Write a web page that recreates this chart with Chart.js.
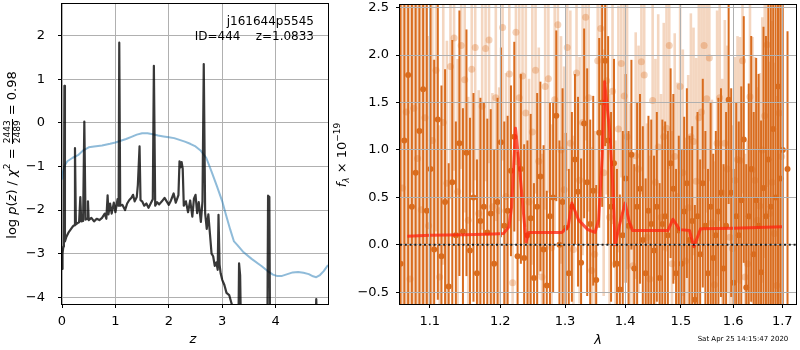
<!DOCTYPE html>
<html>
<head>
<meta charset="utf-8">
<script src="https://cdn.jsdelivr.net/npm/chart.js@4.4.1/dist/chart.umd.min.js"></script>
<style>
  body { margin: 0; background: #fff; }
  #wrap { position: relative; width: 800px; height: 350px; font-family: 'DejaVu Sans', sans-serif; color: #000; }
  canvas { position: absolute; top: 0; }
  #pzChart { left: 0; }
  #specChart { left: 332px; }
  .txt { position: absolute; white-space: pre; line-height: 15px; }
  .vt { width: 240px; height: 18px; line-height: 18px; text-align: center; transform-origin: 0 0; transform: rotate(-90deg); }
  .frac { display: inline-block; vertical-align: middle; text-align: center; font-size: 9px; line-height: 9px; }
  .frac span { display: block; padding: 0 1px; }
  .frac .num { border-bottom: 1px solid #000; }
  sup, sub { font-size: 9px; line-height: 0; position: relative; vertical-align: 0; }
  sup { top: -6px; }
  sub { top: 3px; }
</style>
</head>
<body>
<div id="wrap">
  <canvas id="pzChart" width="332" height="350"></canvas>
  <canvas id="specChart" width="468" height="350"></canvas>

  <div class="txt" style="left:0; width:314px; text-align:right; top:14px; font-size:12px;">j161644p5545</div>
  <div class="txt" style="left:0; width:314px; text-align:right; top:29px; font-size:12px;">ID=444    z=1.0833</div>

  <div class="txt vt" style="left:3px; top:275px; font-size:13px;">log <i>p</i>(<i>z</i>) / <i>χ</i><sup>2</sup> = <span class="frac"><span class="num">2443</span><span>2489</span></span> = 0.98</div>
  <div class="txt" style="left:188px; width:10px; text-align:center; top:331px; font-size:13px;"><i>z</i></div>

  <div class="txt vt" style="left:333px; top:275px; font-size:13px;"><i>f</i><sub><i>λ</i></sub> × 10<sup>−19</sup></div>
  <div class="txt" style="left:593px; width:10px; text-align:center; top:332px; font-size:13px;"><i>λ</i></div>

  <div class="txt" style="left:693px; width:100px; text-align:center; top:335px; font-size:7px; line-height:8px;">Sat Apr 25 14:15:47 2020</div>
</div>

<script>
// redshift probability, log p(z)
const PZ_Z = [
  0.00, 0.01, 0.025, 0.035, 0.045, 0.055, 0.08, 0.12, 0.16, 0.20,
  0.225, 0.243, 0.26, 0.29, 0.32, 0.343, 0.36, 0.395, 0.418, 0.44,
  0.47, 0.486, 0.50, 0.55, 0.60, 0.65, 0.70, 0.75, 0.80, 0.83,
  0.854, 0.87, 0.90, 0.93, 0.97, 1.00, 1.04, 1.06, 1.072, 1.09,
  1.13, 1.18, 1.22, 1.26, 1.30, 1.33, 1.36, 1.40, 1.42, 1.452,
  1.47, 1.50, 1.54, 1.58, 1.62, 1.66, 1.70, 1.72, 1.745, 1.78,
  1.82, 1.87, 1.92, 1.96, 2.00, 2.04, 2.09, 2.13, 2.18, 2.20, 2.22,
  2.24, 2.26, 2.28, 2.32, 2.36, 2.40, 2.44, 2.47, 2.50, 2.53,
  2.56, 2.60, 2.63, 2.654, 2.68, 2.71, 2.74, 2.77, 2.80, 2.83,
  2.86, 2.89, 2.915, 2.93, 2.95, 2.97, 3.00, 3.04, 3.08, 3.13,
  3.16, 3.20, 3.26, 3.30, 3.315, 3.335, 3.36, 3.50, 3.70, 3.84,
  3.858, 3.882, 3.90, 4.20, 4.60, 4.72, 4.76, 4.80, 4.98
];
const PZ_LOGP = [
  -3.35, -3.00, -2.84, -2.75, 0.85, -2.72, -2.62, -2.52, -2.45, -2.38,
  -2.35, -0.58, -2.33, -2.30, -2.28, -1.70, -2.26, -2.25, 0.03, -2.22,
  -2.20, -1.80, -2.23, -2.18, -2.26, -2.20, -2.23, -2.18, -2.08, -2.20,
  -1.66, -2.10, -1.85, -2.08, -1.83, -2.05, -1.75, -1.90, 1.84, -1.90,
  -1.88, -2.00, -1.85, -1.77, -1.72, -1.65, -1.80, -1.70, -1.43, -0.54,
  -1.77, -1.80, -1.90, -1.85, -1.95, -1.85, -1.75, 1.31, -1.90, -1.82,
  -1.87, -1.80, -1.72, -1.80, -1.88, -1.78, -1.62, -1.83, -1.66, -0.88, -1.02,
  -0.90, -1.05, -1.90, -1.80, -2.05, -1.78, -2.15, -1.74, -1.65, -2.07,
  -1.82, -2.27, -1.80, 1.35, -2.07, -2.43, -2.10, -2.55, -3.00, -3.06,
  -3.28, -3.20, -3.37, -2.11, -3.25, -3.45, -3.60, -3.72, -3.90, -3.95,
  -4.08, -4.25, -5.50, -5.00, -3.22, -3.50, -5.50, -8.0, -8.0, -6.0,
  -1.67, -1.70, -6.0, -9.0, -9.0, -6.0, -4.04, -6.0, -9.0
];
// prior
const PRIOR_Z = [
  0, 0.02, 0.05, 0.1, 0.2, 0.3, 0.4, 0.5, 0.6, 0.75,
  0.9, 1.0, 1.1, 1.2, 1.3, 1.4, 1.5, 1.6, 1.7, 1.8,
  1.9, 2.0, 2.1, 2.2, 2.3, 2.4, 2.5, 2.6, 2.7, 2.8,
  2.9, 3.0, 3.06, 3.15, 3.22, 3.28, 3.4, 3.55, 3.74, 3.85,
  3.95, 4.02, 4.12, 4.22, 4.32, 4.42, 4.52, 4.62, 4.7, 4.76,
  4.83, 4.9, 4.98
];
const PRIOR_LOGP = [
  -1.30, -1.12, -0.98, -0.88, -0.80, -0.74, -0.63, -0.56, -0.54, -0.52,
  -0.48, -0.45, -0.41, -0.37, -0.32, -0.27, -0.24, -0.24, -0.26, -0.29,
  -0.31, -0.33, -0.35, -0.39, -0.43, -0.48, -0.54, -0.64, -0.80, -1.12,
  -1.45, -1.80, -2.07, -2.45, -2.72, -2.80, -2.97, -3.12, -3.29, -3.40,
  -3.48, -3.51, -3.51, -3.47, -3.43, -3.42, -3.44, -3.47, -3.52, -3.54,
  -3.49, -3.40, -3.26
];
const Z_TICKS = [0, 1, 2, 3, 4];
const LOGP_TICKS = [-4, -3, -2, -1, 0, 1, 2];

// 1D spectrum, binned
const SPEC_WAVE = [
  1.061, 1.066, 1.071, 1.076, 1.081, 1.086, 1.091, 1.096, 1.101, 1.106,
  1.111, 1.116, 1.121, 1.126, 1.131, 1.136, 1.141, 1.146, 1.151, 1.156,
  1.161, 1.166, 1.171, 1.176, 1.181, 1.186, 1.191, 1.196, 1.201, 1.206,
  1.211, 1.216, 1.221, 1.226, 1.231, 1.236, 1.241, 1.246, 1.251, 1.256,
  1.261, 1.266, 1.271, 1.276, 1.281, 1.286, 1.291, 1.296, 1.301, 1.306,
  1.311, 1.316, 1.321, 1.326, 1.331, 1.336, 1.341, 1.346, 1.351, 1.356,
  1.361, 1.366, 1.371, 1.376, 1.381, 1.386, 1.391, 1.396, 1.401, 1.406,
  1.411, 1.416, 1.421, 1.426, 1.431, 1.436, 1.441, 1.446, 1.451, 1.456,
  1.461, 1.466, 1.471, 1.476, 1.481, 1.486, 1.491, 1.496, 1.501, 1.506,
  1.511, 1.516, 1.521, 1.526, 1.531, 1.536, 1.541, 1.546, 1.551, 1.556,
  1.561, 1.566, 1.571, 1.576, 1.581, 1.586, 1.591, 1.596, 1.601, 1.606,
  1.611, 1.616, 1.621, 1.626, 1.631, 1.636, 1.641, 1.646, 1.651, 1.656,
  1.661, 1.666, 1.671, 1.676, 1.681, 1.686, 1.691, 1.696, 1.701, 1.711
];
const SPEC_FLUX = [
  -0.20, 1.10, 1.79, 0.40, 0.76, 1.20, 1.64, 0.36, 0.80, -0.05,
  1.32, -0.12, 0.45, -0.44, 0.66, 0.10, 1.07, 0.14, 0.97, -0.06,
  0.50, -0.30, 0.25, 0.40, 0.13, 0.33, -0.20, 0.45, 1.08, 0.20,
  0.36, 0.78, 1.14, -0.12, 0.80, -0.14, 0.10, 0.28, -0.35, 0.40,
  0.72, -0.05, -0.43, 0.30, 0.50, 1.36, 0.00, 0.45, 0.18, -0.30,
  0.40, 0.90, 0.56, -0.19, 1.28, 0.66, 0.22, 0.57, -0.37, 1.18,
  1.50, 1.94, 1.10, 0.40, 0.86, -0.20, -0.47, 0.10, 0.70, 0.20,
  0.95, -0.25, 0.40, 0.59, 0.05, -0.30, 0.36, 0.22, -0.06, 0.40,
  -0.35, 0.22, 0.30, 0.10, 0.86, 0.59, -0.30, 0.15, -0.20, 0.35,
  0.65, 0.05, 0.25, -0.58, 0.30, -0.10, 0.65, 0.20, -0.30, 0.40,
  -0.14, 0.10, 0.35, 0.55, -0.25, 0.20, 1.53, 0.55, -0.40, 0.30,
  0.10, 0.47, 1.11, -0.45, 0.30, 0.80, -0.10, 0.47, 0.20, -0.29,
  0.60, 0.30, 0.90, 0.40, 1.22, 0.50, 1.67, 0.70, 1.00, 0.80
];
const SPEC_ERR = [
  4.0, 3.8, 3.6, 3.4, 3.2, 3.0, 2.8, 2.6, 2.2, 2.0,
  1.9, 1.8, 1.4, 1.3, 1.5, 1.2, 1.4, 1.3, 1.3, 1.4,
  1.1, 1.2, 1.3, 1.1, 1.2, 1.1, 1.2, 1.1, 1.0, 1.1,
  1.0, 0.9, 1.0, 1.1, 1.0, 1.2, 1.0, 1.1, 1.0, 1.2,
  1.0, 1.1, 1.0, 1.2, 1.0, 0.9, 1.1, 1.2, 1.0, 1.1,
  1.0, 0.9, 1.0, 1.1, 1.0, 1.2, 1.1, 1.0, 1.0, 1.0,
  1.1, 0.9, 1.1, 1.0, 1.1, 1.0, 1.0, 1.1, 1.1, 1.0,
  1.0, 1.1, 1.1, 1.0, 1.2, 1.0, 1.0, 1.1, 1.0, 1.0,
  1.0, 1.1, 1.0, 1.1, 1.0, 1.0, 1.1, 1.0, 1.2, 1.0,
  1.0, 1.1, 1.0, 1.0, 1.1, 1.0, 1.1, 1.0, 1.1, 1.1,
  1.1, 1.1, 1.2, 1.1, 1.1, 1.2, 1.1, 1.1, 1.2, 1.2,
  1.2, 1.2, 1.3, 1.3, 1.4, 1.4, 1.5, 1.5, 1.6, 1.6,
  1.7, 1.9, 2.1, 2.4, 2.8, 3.2, 3.6, 4.0, 4.4, 1.45
];

// 1D spectrum, unbinned (faint)
const RAW_WAVE = [
  1.0635, 1.0685, 1.0735, 1.0785, 1.0835, 1.0885, 1.0935, 1.0985, 1.1035, 1.1085,
  1.1135, 1.1185, 1.1235, 1.1285, 1.1335, 1.1385, 1.1435, 1.1485, 1.1535, 1.1585,
  1.1635, 1.1685, 1.1735, 1.1785, 1.1835, 1.1885, 1.1935, 1.1985, 1.2035, 1.2085,
  1.2135, 1.2185, 1.2235, 1.2285, 1.2335, 1.2385, 1.2435, 1.2485, 1.2535, 1.2585,
  1.2635, 1.2685, 1.2735, 1.2785, 1.2835, 1.2885, 1.2935, 1.2985, 1.3035, 1.3085,
  1.3135, 1.3185, 1.3235, 1.3285, 1.3335, 1.3385, 1.3435, 1.3485, 1.3535, 1.3585,
  1.3635, 1.3685, 1.3735, 1.3785, 1.3835, 1.3885, 1.3935, 1.3985, 1.4035, 1.4085,
  1.4135, 1.4185, 1.4235, 1.4285, 1.4335, 1.4385, 1.4435, 1.4485, 1.4535, 1.4585,
  1.4635, 1.4685, 1.4735, 1.4785, 1.4835, 1.4885, 1.4935, 1.4985, 1.5035, 1.5085,
  1.5135, 1.5185, 1.5235, 1.5285, 1.5335, 1.5385, 1.5435, 1.5485, 1.5535, 1.5585,
  1.5635, 1.5685, 1.5735, 1.5785, 1.5835, 1.5885, 1.5935, 1.5985, 1.6035, 1.6085,
  1.6135, 1.6185, 1.6235, 1.6285, 1.6335, 1.6385, 1.6435, 1.6485, 1.6535, 1.6585,
  1.6635, 1.6685, 1.6735, 1.6785, 1.6835, 1.6885, 1.6935, 1.6985
];
const RAW_FLUX = [
  0.60, 1.40, -0.36, 1.44, 0.91, 0.37, 1.34, 0.20, 1.10, 1.84,
  -0.34, 1.29, 0.65, 1.88, 2.18, 0.56, 2.10, 1.74, 0.26, 1.85,
  2.08, 0.33, 1.46, 2.07, 2.16, 0.40, 1.55, 0.36, 2.29, 0.51,
  1.80, -0.40, 2.24, 1.55, 1.78, 1.39, 0.45, 1.19, 1.84, 0.88,
  -0.34, 1.67, 1.75, -0.03, 1.53, 2.32, 1.00, 0.58, 2.08, 1.07,
  -0.05, 1.81, 0.68, 1.29, 2.40, 1.55, -0.27, -0.10, 1.94, 2.28,
  0.76, 1.73, 0.29, 1.62, -0.20, 1.22, 1.91, 1.57, 1.14, 0.19,
  -0.22, 0.94, 0.80, 1.93, 1.79, 0.08, -0.36, 1.52, 0.66, 1.03,
  0.29, 1.14, 1.23, 2.10, -0.20, 0.93, 0.51, 1.67, 0.76, -0.17,
  0.39, 1.14, 1.09, 0.67, 1.34, 1.40, 2.10, 1.54, 1.97, 0.23,
  -0.42, 1.07, 1.55, 0.55, 1.07, 0.80, 0.08, -0.04, 0.68, 0.90,
  0.89, 1.94, -0.34, -0.20, 1.56, 0.79, 0.68, 0.26, 0.41, 1.00,
  1.36, 2.11, 0.33, 0.66, 0.12, -0.43, 1.39, 0.93
];
const RAW_ERR = [
  3.5, 3.2, 3.0, 2.8, 2.6, 2.4, 2.2, 2.0, 1.8, 1.7,
  1.6, 1.5, 1.5, 1.4, 1.4, 1.4, 1.3, 1.4, 1.3, 1.3,
  1.4, 1.3, 1.3, 1.4, 1.3, 1.2, 1.3, 1.3, 1.4, 1.3,
  1.3, 1.2, 1.4, 1.3, 1.3, 1.2, 1.3, 1.4, 1.3, 1.2,
  1.3, 1.3, 1.2, 1.3, 1.4, 1.3, 1.2, 1.3, 1.3, 1.4,
  1.2, 1.3, 1.3, 1.4, 1.3, 1.2, 1.3, 1.3, 1.4, 1.3,
  1.3, 1.2, 1.3, 1.4, 1.3, 1.3, 1.2, 1.3, 1.4, 1.3,
  1.2, 1.3, 1.3, 1.4, 1.3, 1.2, 1.3, 1.3, 1.3, 1.4,
  1.3, 1.2, 1.3, 1.3, 1.4, 1.3, 1.2, 1.3, 1.3, 1.3,
  1.4, 1.3, 1.2, 1.3, 1.3, 1.4, 1.3, 1.2, 1.3, 1.3,
  1.3, 1.4, 1.3, 1.2, 1.3, 1.3, 1.4, 1.3, 1.3, 1.3,
  1.3, 1.4, 1.3, 1.3, 1.3, 1.4, 1.3, 1.4, 1.4, 1.4,
  1.5, 1.5, 1.6, 1.7, 1.8, 2.0, 2.2, 2.5
];

// best-fit line model
const MODEL_WAVE = [
  1.07, 1.10, 1.15, 1.19, 1.205, 1.213, 1.217, 1.2228, 1.2295, 1.235,
  1.239, 1.243, 1.27, 1.295, 1.305, 1.311, 1.322, 1.337, 1.349, 1.355,
  1.361, 1.365, 1.374, 1.379, 1.383, 1.390, 1.400, 1.407, 1.413, 1.476,
  1.4853, 1.4976, 1.516, 1.5242, 1.5368, 1.60, 1.70
];
const MODEL_FLUX = [
  0.09, 0.10, 0.105, 0.115, 0.12, 0.19, 0.40, 1.23, 0.76, 0.33,
  0.03, 0.13, 0.13, 0.13, 0.19, 0.44, 0.26, 0.16, 0.13, 0.26,
  0.93, 1.72, 1.18, 0.61, 0.00, 0.20, 0.44, 0.25, 0.15, 0.15,
  0.27, 0.16, 0.15, -0.02, 0.17, 0.175, 0.19
];
const LAM_TICKS = [1.1, 1.2, 1.3, 1.4, 1.5, 1.6, 1.7];
const FLUX_TICKS = [-0.5, 0, 0.5, 1, 1.5, 2, 2.5];
const ZERO_LEVEL = 0;

const ORANGE = 'rgb(217,108,30)';
const ORANGE_FAINT = 'rgba(217,108,30,0.28)';
const GRID = '#b0b0b0';

Chart.defaults.font.family = "'DejaVu Sans', sans-serif";
Chart.defaults.font.size = 13;
Chart.defaults.color = '#000';

const pts = (xs, ys) => xs.map((x, i) => ({ x: x, y: ys[i] }));
const minus = (s) => s.replace('-', '\u2212');

// black box round the plotting area
const frame = {
  id: 'frame',
  afterDraw(chart) {
    const { ctx, chartArea: a } = chart;
    ctx.save();
    ctx.strokeStyle = '#000';
    ctx.lineWidth = 1;
    ctx.strokeRect(Math.round(a.left) - 0.5, Math.round(a.top) - 0.5,
                   Math.round(a.right - a.left) + 1, Math.round(a.bottom - a.top) + 1);
    ctx.restore();
  }
};

// vertical error bars, drawn just under each dataset's markers
const errorBars = {
  id: 'errorBars',
  beforeDatasetDraw(chart, args) {
    const ds = chart.data.datasets[args.index];
    if (!ds.errors) return;
    const { ctx, chartArea: a, scales } = chart;
    const y = scales.y;
    ctx.save();
    ctx.beginPath();
    ctx.rect(a.left, a.top, a.right - a.left, a.bottom - a.top);
    ctx.clip();
    ctx.strokeStyle = ds.barColor;
    ctx.lineWidth = ds.barWidth;
    args.meta.data.forEach((pt, i) => {
      const v = ds.data[i].y;
      const e = ds.errors[i];
      ctx.beginPath();
      ctx.moveTo(pt.x, y.getPixelForValue(v - e));
      ctx.lineTo(pt.x, y.getPixelForValue(v + e));
      ctx.stroke();
    });
    ctx.restore();
  }
};

// dotted zero level
const zeroLine = {
  id: 'zeroLine',
  afterDraw(chart) {
    const { ctx, chartArea: a, scales } = chart;
    const yy = scales.y.getPixelForValue(ZERO_LEVEL);
    ctx.save();
    ctx.strokeStyle = 'rgba(0,0,0,0.85)';
    ctx.lineWidth = 2;
    ctx.setLineDash([2, 2.8]);
    ctx.beginPath();
    ctx.moveTo(a.left, yy);
    ctx.lineTo(a.right, yy);
    ctx.stroke();
    ctx.restore();
  }
};

// fixed axis box sizes, no extra room for end labels
const fixHeight = (h) => (s) => { s.height = h; s.paddingLeft = 0; s.paddingRight = 0; };
const fixWidth = (w) => (s) => { s.width = w; s.paddingTop = 0; s.paddingBottom = 0; };

function axis(type, min, max, ticks, fmt, fit, pad, gridZ) {
  return {
    type: type,
    min: min,
    max: max,
    afterBuildTicks: (s) => { s.ticks = ticks.map(v => ({ value: v })); },
    afterFit: fit,
    grid: { color: GRID, lineWidth: 1, tickColor: '#000', tickLength: 4, z: gridZ },
    border: { display: false },
    ticks: { color: '#000', maxRotation: 0, autoSkip: false, padding: pad, callback: fmt }
  };
}

new Chart(document.getElementById('pzChart'), {
  type: 'scatter',
  data: {
    datasets: [
      {
        data: pts(PZ_Z, PZ_LOGP),
        showLine: true,
        borderColor: 'rgba(0,0,0,0.78)',
        borderWidth: 2.2,
        borderJoinStyle: 'round',
        pointRadius: 0,
        clip: 0
      },
      {
        data: pts(PRIOR_Z, PRIOR_LOGP),
        showLine: true,
        borderColor: 'rgba(31,119,180,0.5)',
        borderWidth: 2,
        borderJoinStyle: 'round',
        pointRadius: 0,
        clip: 0
      }
    ]
  },
  plugins: [frame],
  options: {
    responsive: false,
    animation: false,
    layout: { padding: { left: 0, right: 4, top: 4, bottom: 0 } },
    plugins: { legend: { display: false }, tooltip: { enabled: false } },
    scales: {
      x: axis('linear', 0, 4.98, Z_TICKS, (v) => minus(String(v)), fixHeight(46), 6, -1),
      y: axis('linear', -4.155, 2.727, LOGP_TICKS, (v) => minus(String(v)), fixWidth(62), 13, -1)
    }
  }
});

new Chart(document.getElementById('specChart'), {
  type: 'scatter',
  data: {
    datasets: [
      {
        data: pts(MODEL_WAVE, MODEL_FLUX),
        showLine: true,
        borderColor: 'rgba(255,35,15,0.75)',
        borderWidth: 3,
        borderJoinStyle: 'round',
        pointRadius: 0
      },
      {
        data: pts(SPEC_WAVE, SPEC_FLUX),
        errors: SPEC_ERR,
        barColor: ORANGE,
        barWidth: 2,
        pointRadius: 3,
        backgroundColor: ORANGE,
        borderWidth: 0
      },
      {
        data: pts(RAW_WAVE, RAW_FLUX),
        errors: RAW_ERR,
        barColor: ORANGE_FAINT,
        barWidth: 2.6,
        pointRadius: 3.5,
        backgroundColor: 'rgba(217,108,30,0.3)',
        borderWidth: 0
      }
    ]
  },
  plugins: [errorBars, zeroLine, frame],
  options: {
    responsive: false,
    animation: false,
    layout: { padding: { left: 0, right: 1, top: 5, bottom: 0 } },
    plugins: { legend: { display: false }, tooltip: { enabled: false } },
    scales: {
      x: axis('logarithmic', 1.0603, 1.729, LAM_TICKS, (v) => v.toFixed(1), fixHeight(46), 6, 1),
      y: axis('linear', -0.624, 2.528, FLUX_TICKS, (v) => minus(v.toFixed(1)), fixWidth(68), 7, 1)
    }
  }
});
</script>
</body>
</html>
